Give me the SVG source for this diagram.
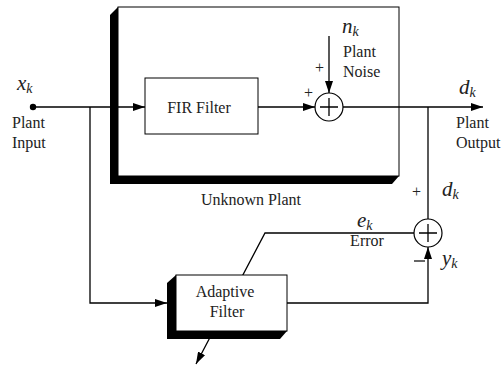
<svg xmlns="http://www.w3.org/2000/svg" width="503" height="366" viewBox="0 0 503 366">
<defs>
<marker id="ah" markerWidth="12" markerHeight="8" refX="12" refY="4" orient="auto" markerUnits="userSpaceOnUse">
<path d="M0,0 L12,4 L0,8 Z" fill="#000"/>
</marker>
<style>
.ln{fill:none;stroke:#000;stroke-width:1.3}
.box{fill:#fff;stroke:#000;stroke-width:1}
.sh{fill:#000}
.t{font-family:"Liberation Serif",serif;font-size:16px;fill:#222}
.m{font-family:"Liberation Serif",serif;font-style:italic;font-size:21px;fill:#222}
.s{font-size:14px}
.pm{font-family:"Liberation Serif",serif;font-size:16px;fill:#222}
</style>
</defs>
<rect width="503" height="366" fill="#fff"/>
<g id="unknown-plant">
<polygon class="sh" points="118,7 110,15 110,184 392,184 399,176 118,176"/>
<rect class="box" x="118" y="7" width="281" height="169"/>
<text class="t" x="251" y="205" text-anchor="middle">Unknown Plant</text>
</g>
<g id="connectors">
<polyline class="ln" points="33,107 145,107" marker-end="url(#ah)"/>
<polyline class="ln" points="90,107 90,303 167,303" marker-end="url(#ah)"/>
<polyline class="ln" points="258,107 315,107" marker-end="url(#ah)"/>
<polyline class="ln" points="329,36 329,93" marker-end="url(#ah)"/>
<polyline class="ln" points="343,107 483,107" marker-end="url(#ah)"/>
<polyline class="ln" points="428,107 428,219"/>
<polyline class="ln" points="414,233 265,233 196,364" marker-end="url(#ah)"/>
<polyline class="ln" points="287,303 428,303 428,247" marker-end="url(#ah)"/>
</g>
<g id="input">
<circle cx="33" cy="107" r="3.2" fill="#000"/>
<text class="m" x="17" y="90">x<tspan class="s" dy="3">k</tspan></text>
<text class="t" x="12" y="128">Plant</text>
<text class="t" x="12" y="148">Input</text>
</g>
<g id="fir">
<rect class="box" x="145" y="78" width="113" height="56"/>
<text class="t" x="199" y="113" text-anchor="middle">FIR Filter</text>
</g>
<g id="sum1">
<circle cx="329" cy="107" r="14" fill="#fff" stroke="#000" stroke-width="1.2"/>
<path class="ln" d="M320,107 H338 M329,98 V116" stroke-width="1"/>
<text class="pm" x="304" y="98">+</text>
<text class="pm" x="315" y="73">+</text>
<text class="m" x="342" y="33">n<tspan class="s" dy="3">k</tspan></text>
<text class="t" x="343" y="57">Plant</text>
<text class="t" x="343" y="77">Noise</text>
</g>
<g id="output">
<text class="m" x="459" y="94">d<tspan class="s" dy="3">k</tspan></text>
<text class="t" x="456" y="128">Plant</text>
<text class="t" x="456" y="148">Output</text>
</g>
<g id="sum2">
<circle cx="428" cy="233" r="14" fill="#fff" stroke="#000" stroke-width="1.2"/>
<path class="ln" d="M419,233 H437 M428,224 V242" stroke-width="1"/>
<text class="pm" x="412" y="197">+</text>
<text class="m" x="442" y="196">d<tspan class="s" dy="3">k</tspan></text>
<path d="M414,261 H425" stroke="#000" stroke-width="1.2"/>
<text class="m" x="442" y="265">y<tspan class="s" dy="3">k</tspan></text>
<text class="m" x="357" y="227">e<tspan class="s" dy="3">k</tspan></text>
<text class="t" x="367" y="246" text-anchor="middle">Error</text>
</g>
<g id="adaptive-filter">
<polygon class="sh" points="176,275 167,283 167,339 280,339 287,331 176,331"/>
<rect class="box" x="176" y="275" width="111" height="56"/>
<text class="t" x="225" y="297" text-anchor="middle">Adaptive</text>
<text class="t" x="227" y="317" text-anchor="middle">Filter</text>
</g>
</svg>
